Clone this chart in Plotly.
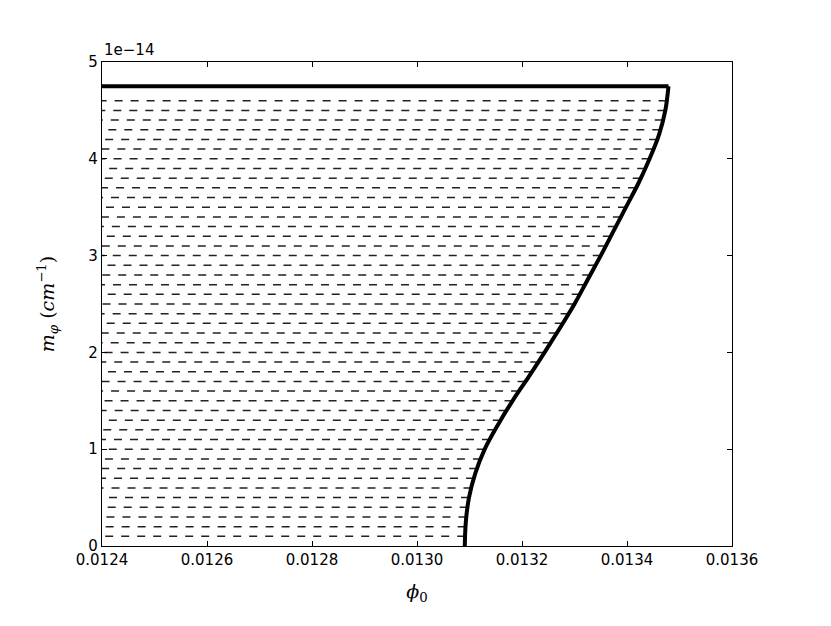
import numpy as np
import plotly.graph_objects as go

# boundary curve (m_phi in cm^-1, phi_0)
m_phi = [0.0, 0.25e-14, 0.5e-14, 0.75e-14, 1.0e-14, 1.25e-14, 1.5e-14, 1.75e-14,
         2.0e-14, 2.25e-14, 2.5e-14, 2.75e-14, 3.0e-14, 3.25e-14, 3.5e-14, 3.75e-14,
         4.0e-14, 4.25e-14, 4.5e-14, 4.75e-14]
phi_0 = [0.013091, 0.013093, 0.013099, 0.013111, 0.013129, 0.013154, 0.013182, 0.013213,
         0.013243, 0.013272, 0.013300, 0.013325, 0.013350, 0.013374, 0.013398, 0.013422,
         0.013443, 0.013461, 0.013473, 0.013479]

# hatching levels of the allowed region
hatch_levels = [0.1e-14, 0.2e-14, 0.3e-14, 0.4e-14, 0.5e-14, 0.6e-14, 0.7e-14, 0.8e-14,
                0.9e-14, 1.0e-14, 1.1e-14, 1.2e-14, 1.3e-14, 1.4e-14, 1.5e-14, 1.6e-14,
                1.7e-14, 1.8e-14, 1.9e-14, 2.0e-14, 2.1e-14, 2.2e-14, 2.3e-14, 2.4e-14,
                2.5e-14, 2.6e-14, 2.7e-14, 2.8e-14, 2.9e-14, 3.0e-14, 3.1e-14, 3.2e-14,
                3.3e-14, 3.4e-14, 3.5e-14, 3.6e-14, 3.7e-14, 3.8e-14, 3.9e-14, 4.0e-14,
                4.1e-14, 4.2e-14, 4.3e-14, 4.4e-14, 4.5e-14, 4.6e-14]

x_ticks = [0.0124, 0.0126, 0.0128, 0.0130, 0.0132, 0.0134, 0.0136]
y_ticks = [0, 1e-14, 2e-14, 3e-14, 4e-14, 5e-14]
y_ticktext = ["0", "1", "2", "3", "4", "5"]

x_min, x_max = 0.0124, 0.0136

fig = go.Figure()

# dashed hatch lines, drawn from the curve leftwards
for lev in hatch_levels:
    xe = float(np.interp(lev, m_phi, phi_0))
    fig.add_trace(go.Scatter(x=[xe, x_min - 0.00001], y=[lev, lev], mode="lines",
                             line=dict(color="#222222", width=1.5, dash="8px,8px"),
                             hoverinfo="skip", showlegend=False))

# boundary curve
fig.add_trace(go.Scatter(x=phi_0, y=m_phi, mode="lines",
                         line=dict(color="black", width=4, shape="spline", smoothing=1.0),
                         showlegend=False))
fig.add_trace(go.Scatter(x=[phi_0[-1], x_min - 0.00001], y=[m_phi[-1], m_phi[-1]], mode="lines",
                         line=dict(color="black", width=4), showlegend=False))

axis_font = dict(family="DejaVu Sans", size=15, color="black")
fig.update_xaxes(range=[x_min, x_max], tickvals=x_ticks, tickformat=".4f",
                 ticks="inside", ticklen=5, tickcolor="black", mirror="allticks",
                 showline=True, linecolor="black", linewidth=1.2, showgrid=False,
                 zeroline=False, tickfont=axis_font, automargin=False,
                 title=dict(text="<i>ϕ</i><sub>0</sub>", standoff=16,
                            font=dict(family="DejaVu Serif", size=19, color="black")))
fig.update_yaxes(range=[0, 5e-14], tickvals=y_ticks, ticktext=y_ticktext,
                 ticks="inside", ticklen=5, tickcolor="black", mirror="allticks",
                 showline=True, linecolor="black", linewidth=1.2, showgrid=False,
                 zeroline=False, tickfont=axis_font, automargin=False,
                 title=dict(text="<i>m</i><sub><i>φ</i></sub> (<i>cm</i><sup>−1</sup>)", standoff=28,
                            font=dict(family="DejaVu Serif", size=19, color="black")))

fig.add_annotation(text="1e−14", xref="paper", yref="paper", x=0, y=1,
                   xanchor="left", yanchor="bottom", showarrow=False, yshift=1,
                   font=axis_font)

# page body adds 8px, so the figure is a bit smaller than the window
fig.update_layout(width=823, height=618, plot_bgcolor="white", paper_bgcolor="white",
                  margin=dict(l=94, r=99, t=54, b=80), showlegend=False)

fig.write_html("out.html")
